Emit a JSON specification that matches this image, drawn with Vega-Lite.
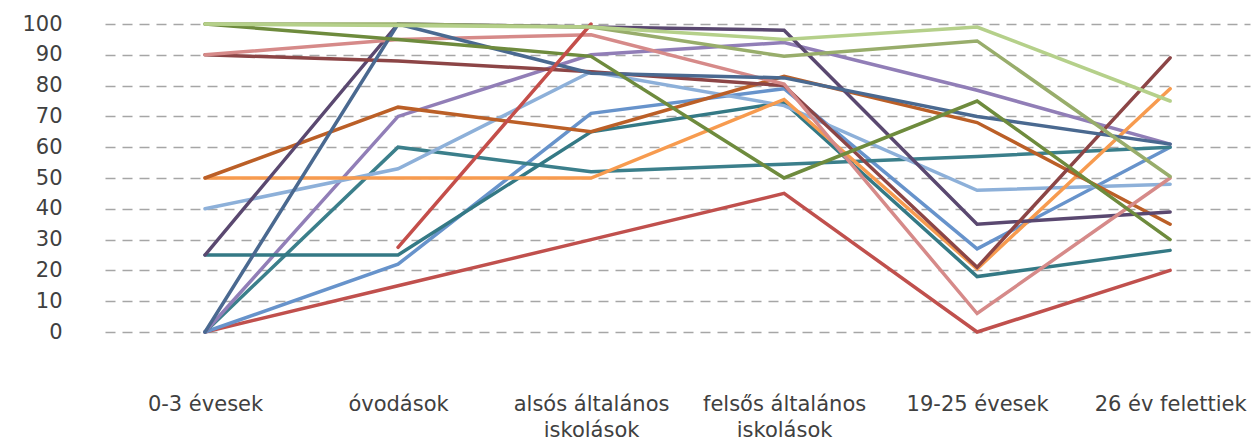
{
  "$schema": "https://vega.github.io/schema/vega-lite/v6.json",
  "width": 1145,
  "height": 308,
  "autosize": {"type": "none"},
  "padding": {"left": 105, "top": 24, "right": 5, "bottom": 108},
  "config": {"view": {"stroke": null}, "font": "DejaVu Sans"},
  "data": {"values": [
    {"s": "s01", "k": "0-3 évesek", "v": 0},
    {"s": "s01", "k": "óvodások", "v": 15},
    {"s": "s01", "k": "alsós általános iskolások", "v": 30},
    {"s": "s01", "k": "felsős általános iskolások", "v": 45},
    {"s": "s01", "k": "19-25 évesek", "v": 0},
    {"s": "s01", "k": "26 év felettiek", "v": 20},
    {"s": "s02", "k": "0-3 évesek", "v": 0},
    {"s": "s02", "k": "óvodások", "v": 22},
    {"s": "s02", "k": "alsós általános iskolások", "v": 71},
    {"s": "s02", "k": "felsős általános iskolások", "v": 79},
    {"s": "s02", "k": "19-25 évesek", "v": 27},
    {"s": "s02", "k": "26 év felettiek", "v": 60},
    {"s": "s03", "k": "0-3 évesek", "v": 0},
    {"s": "s03", "k": "óvodások", "v": 60},
    {"s": "s03", "k": "alsós általános iskolások", "v": 52},
    {"s": "s03", "k": "felsős általános iskolások", "v": 54.5},
    {"s": "s03", "k": "19-25 évesek", "v": 57},
    {"s": "s03", "k": "26 év felettiek", "v": 60},
    {"s": "s04", "k": "0-3 évesek", "v": 0},
    {"s": "s04", "k": "óvodások", "v": 70},
    {"s": "s04", "k": "alsós általános iskolások", "v": 90},
    {"s": "s04", "k": "felsős általános iskolások", "v": 94},
    {"s": "s04", "k": "19-25 évesek", "v": 78.5},
    {"s": "s04", "k": "26 év felettiek", "v": 61},
    {"s": "s05", "k": "0-3 évesek", "v": 25},
    {"s": "s05", "k": "óvodások", "v": 25},
    {"s": "s05", "k": "alsós általános iskolások", "v": 65},
    {"s": "s05", "k": "felsős általános iskolások", "v": 74.5},
    {"s": "s05", "k": "19-25 évesek", "v": 18},
    {"s": "s05", "k": "26 év felettiek", "v": 26.5},
    {"s": "s06", "k": "0-3 évesek", "v": 40},
    {"s": "s06", "k": "óvodások", "v": 53},
    {"s": "s06", "k": "alsós általános iskolások", "v": 84.5},
    {"s": "s06", "k": "felsős általános iskolások", "v": 73.5},
    {"s": "s06", "k": "19-25 évesek", "v": 46},
    {"s": "s06", "k": "26 év felettiek", "v": 48},
    {"s": "s07", "k": "0-3 évesek", "v": 50},
    {"s": "s07", "k": "óvodások", "v": 50},
    {"s": "s07", "k": "alsós általános iskolások", "v": 50},
    {"s": "s07", "k": "felsős általános iskolások", "v": 75.5},
    {"s": "s07", "k": "19-25 évesek", "v": 20.5},
    {"s": "s07", "k": "26 év felettiek", "v": 79},
    {"s": "s08", "k": "0-3 évesek", "v": 50},
    {"s": "s08", "k": "óvodások", "v": 73},
    {"s": "s08", "k": "alsós általános iskolások", "v": 65},
    {"s": "s08", "k": "felsős általános iskolások", "v": 83},
    {"s": "s08", "k": "19-25 évesek", "v": 68},
    {"s": "s08", "k": "26 év felettiek", "v": 35},
    {"s": "s09", "k": "0-3 évesek", "v": 25},
    {"s": "s09", "k": "óvodások", "v": 100},
    {"s": "s09", "k": "alsós általános iskolások", "v": 99},
    {"s": "s09", "k": "felsős általános iskolások", "v": 98},
    {"s": "s09", "k": "19-25 évesek", "v": 35},
    {"s": "s09", "k": "26 év felettiek", "v": 39},
    {"s": "s10", "k": "0-3 évesek", "v": 90},
    {"s": "s10", "k": "óvodások", "v": 88},
    {"s": "s10", "k": "alsós általános iskolások", "v": 84.5},
    {"s": "s10", "k": "felsős általános iskolások", "v": 80},
    {"s": "s10", "k": "19-25 évesek", "v": 21},
    {"s": "s10", "k": "26 év felettiek", "v": 89},
    {"s": "s11", "k": "0-3 évesek", "v": 90},
    {"s": "s11", "k": "óvodások", "v": 95},
    {"s": "s11", "k": "alsós általános iskolások", "v": 96.5},
    {"s": "s11", "k": "felsős általános iskolások", "v": 80.5},
    {"s": "s11", "k": "19-25 évesek", "v": 6},
    {"s": "s11", "k": "26 év felettiek", "v": 50},
    {"s": "s12", "k": "0-3 évesek", "v": 0},
    {"s": "s12", "k": "óvodások", "v": 100},
    {"s": "s12", "k": "alsós általános iskolások", "v": 84},
    {"s": "s12", "k": "felsős általános iskolások", "v": 82.5},
    {"s": "s12", "k": "19-25 évesek", "v": 70},
    {"s": "s12", "k": "26 év felettiek", "v": 61},
    {"s": "s13", "k": "0-3 évesek", "v": 100},
    {"s": "s13", "k": "óvodások", "v": 95},
    {"s": "s13", "k": "alsós általános iskolások", "v": 89.5},
    {"s": "s13", "k": "felsős általános iskolások", "v": 50},
    {"s": "s13", "k": "19-25 évesek", "v": 75},
    {"s": "s13", "k": "26 év felettiek", "v": 30},
    {"s": "s14", "k": "0-3 évesek", "v": 100},
    {"s": "s14", "k": "óvodások", "v": 100},
    {"s": "s14", "k": "alsós általános iskolások", "v": 99},
    {"s": "s14", "k": "felsős általános iskolások", "v": 89.5},
    {"s": "s14", "k": "19-25 évesek", "v": 94.5},
    {"s": "s14", "k": "26 év felettiek", "v": 50.5},
    {"s": "s15", "k": "óvodások", "v": 27.5},
    {"s": "s15", "k": "alsós általános iskolások", "v": 100},
    {"s": "s16", "k": "0-3 évesek", "v": 100},
    {"s": "s16", "k": "óvodások", "v": 99.5},
    {"s": "s16", "k": "alsós általános iskolások", "v": 99},
    {"s": "s16", "k": "felsős általános iskolások", "v": 95},
    {"s": "s16", "k": "19-25 évesek", "v": 99},
    {"s": "s16", "k": "26 év felettiek", "v": 75}
  ]},
  "mark": {"type": "line", "strokeWidth": 3.5, "strokeCap": "round"},
  "encoding": {
    "x": {
      "field": "k", "type": "ordinal",
      "sort": ["0-3 évesek", "óvodások", "alsós általános iskolások", "felsős általános iskolások", "19-25 évesek", "26 év felettiek"],
      "scale": {"type": "point", "range": [0, 1145], "padding": 0.466, "align": 0.556},
      "axis": {
        "title": null, "domain": false, "ticks": false, "grid": false,
        "labelAngle": 0, "labelFontSize": 21, "labelColor": "#404040",
        "labelPadding": 61, "labelLineHeight": 26,
        "labelExpr": "indexof(datum.label, ' iskolások') > 0 ? [replace(datum.label, ' iskolások', ''), 'iskolások'] : datum.label"
      }
    },
    "y": {
      "field": "v", "type": "quantitative",
      "scale": {"domain": [0, 100], "nice": false},
      "axis": {
        "title": null, "domain": false, "ticks": false,
        "values": [0, 10, 20, 30, 40, 50, 60, 70, 80, 90, 100],
        "labelFontSize": 21, "labelColor": "#404040", "labelPadding": 43,
        "gridColor": "#a6a6a6", "gridDash": [10, 7], "gridWidth": 1.5
      }
    },
    "color": {
      "field": "s", "type": "nominal", "legend": null,
      "scale": {
        "domain": ["s01", "s02", "s03", "s04", "s05", "s06", "s07", "s08", "s09", "s10", "s11", "s12", "s13", "s14", "s15", "s16"],
        "range": ["#C0504D", "#6793CB", "#3B7F8B", "#917EB7", "#347985", "#8DB0D9", "#F79B4F", "#BB5F27", "#5A4870", "#8C4546", "#D68A89", "#4A6990", "#6E8B3D", "#98AD6B", "#C44E4A", "#B5D08A"]
      }
    }
  }
}
